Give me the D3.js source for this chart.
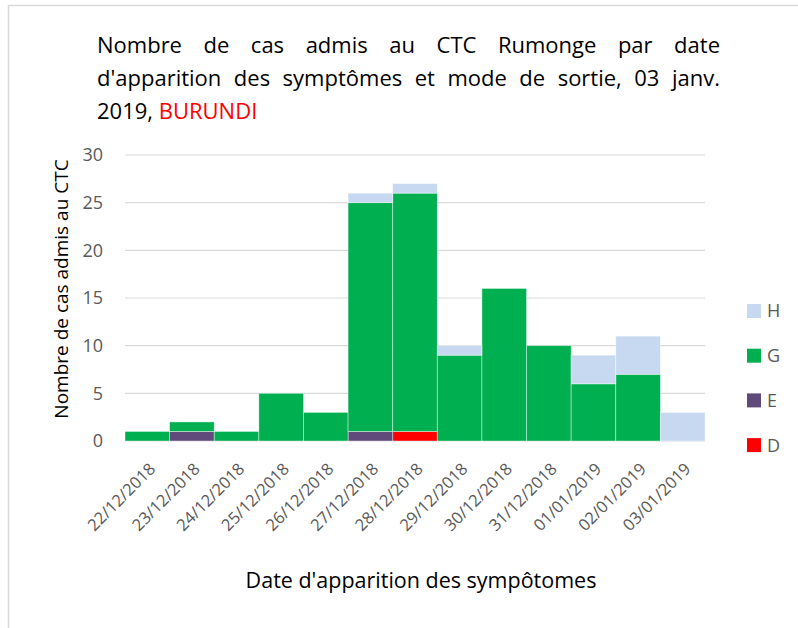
<!DOCTYPE html>
<html>
<head>
<meta charset="utf-8">
<script src="https://cdn.jsdelivr.net/npm/d3@7"></script>
<style>
  body { margin: 0; background: #fff; }
  text { font-family: "Open Sans", "Noto Sans", sans-serif; }
</style>
</head>
<body>
<div id="chart"></div>
<script>
const dates = ['22/12/2018','23/12/2018','24/12/2018','25/12/2018','26/12/2018','27/12/2018',
               '28/12/2018','29/12/2018','30/12/2018','31/12/2018','01/01/2019','02/01/2019','03/01/2019'];
const seriesD = [0, 0, 0, 0, 0, 0, 1, 0, 0, 0, 0, 0, 0];
const seriesE = [0, 1, 0, 0, 0, 1, 0, 0, 0, 0, 0, 0, 0];
const seriesG = [1, 1, 1, 5, 3, 24, 25, 9, 16, 10, 6, 7, 0];
const seriesH = [0, 0, 0, 0, 0, 1, 1, 1, 0, 0, 3, 4, 3];
const yTicks = [0, 5, 10, 15, 20, 25, 30];
const keys = ['D', 'E', 'G', 'H'];
const colors = {D: '#ff0000', E: '#604a7b', G: '#00b050', H: '#c6d9f0'};

const W = 798, H = 628;
const margin = {top: 155, right: 93, bottom: 187, left: 125},
      width = W - margin.left - margin.right,
      height = H - margin.top - margin.bottom;

const svg = d3.select('#chart').append('svg')
    .attr('width', W)
    .attr('height', H);

// outer frame (only top and left edges visible)
svg.append('path')
    .attr('d', 'M8.5,' + H + 'V5.5H' + W)
    .attr('fill', 'none')
    .attr('stroke', '#d9d9d9')
    .attr('stroke-width', 1.5);

// title: first two lines justified by word spacing
const titleX = 97, titleW = 623;
const titleLines = [
  {t: 'Nombre de cas admis au CTC Rumonge par date', y: 53},
  {t: "d'apparition des symptômes et mode de sortie, 03 janv.", y: 86}
];
titleLines.forEach(function(l) {
  const t = svg.append('text')
      .attr('x', titleX).attr('y', l.y)
      .style('font-size', '22px')
      .style('fill', '#000')
      .text(l.t);
  const natural = t.node().getComputedTextLength();
  const gaps = l.t.split(' ').length - 1;
  t.style('word-spacing', ((titleW - natural) / gaps) + 'px');
});
const last = svg.append('text')
    .attr('x', titleX).attr('y', 119)
    .style('font-size', '22px')
    .style('fill', '#000');
last.append('tspan').text('2019, ');
last.append('tspan').style('fill', '#ff0000').text('BURUNDI');

const wrapper = svg.append('g')
    .attr('transform', 'translate(' + margin.left + ',' + margin.top + ')');

const xScale = d3.scaleBand().domain(dates).range([0, width]).padding(0);
const yScale = d3.scaleLinear().domain([0, 30]).range([height, 0]);

// gridlines
wrapper.selectAll('.grid')
    .data(yTicks)
  .enter().append('line')
    .attr('x1', 0).attr('x2', width)
    .attr('y1', function(d) { return yScale(d); })
    .attr('y2', function(d) { return yScale(d); })
    .attr('stroke', '#d9d9d9')
    .attr('stroke-width', 1.2);

// y tick labels
wrapper.selectAll('.ytick')
    .data(yTicks)
  .enter().append('text')
    .attr('x', -22)
    .attr('y', function(d) { return yScale(d); })
    .attr('dy', '0.35em')
    .style('text-anchor', 'end')
    .style('font-size', '18px')
    .style('fill', '#595959')
    .text(function(d) { return d; });

const table = dates.map(function(d, i) {
  return {date: d, D: seriesD[i], E: seriesE[i], G: seriesG[i], H: seriesH[i]};
});
const stacked = d3.stack().keys(keys)(table);

wrapper.selectAll('.layer')
    .data(stacked)
  .enter().append('g')
    .attr('fill', function(d) { return colors[d.key]; })
  .selectAll('rect')
    .data(function(d) { return d.filter(function(p) { return p[1] > p[0]; }); })
  .enter().append('rect')
    .attr('x', function(d) { return xScale(d.data.date); })
    .attr('width', xScale.bandwidth())
    .attr('y', function(d) { return yScale(d[1]); })
    .attr('height', function(d) { return yScale(d[0]) - yScale(d[1]); })
    .attr('stroke', '#ffffff')
    .attr('stroke-opacity', 0.5)
    .attr('stroke-width', 0.8);

// x tick labels, rotated
wrapper.selectAll('.xtick')
    .data(dates)
  .enter().append('text')
    .attr('transform', function(d) {
      return 'translate(' + (xScale(d) + xScale.bandwidth() / 2 + 9) + ',' + (height + 29) + ') rotate(-45)';
    })
    .style('text-anchor', 'end')
    .style('font-size', '16.5px')
    .style('fill', '#595959')
    .text(function(d) { return d; });

// axis titles
svg.append('text')
    .attr('x', 421).attr('y', 588)
    .style('text-anchor', 'middle')
    .style('font-size', '21.5px')
    .style('fill', '#000')
    .text("Date d'apparition des sympôtomes");

svg.append('text')
    .attr('transform', 'translate(68,289) rotate(-90)')
    .style('text-anchor', 'middle')
    .style('font-size', '19px')
    .style('fill', '#000')
    .text('Nombre de cas admis au CTC');

// legend
const legendKeys = ['H', 'G', 'E', 'D'];
const legend = svg.selectAll('.legend')
    .data(legendKeys)
  .enter().append('g')
    .attr('transform', function(d, i) { return 'translate(747,' + (311 + i * 44.7) + ')'; });
legend.append('rect')
    .attr('x', 0).attr('y', -7)
    .attr('width', 14).attr('height', 14)
    .attr('fill', function(d) { return colors[d]; });
legend.append('text')
    .attr('x', 20).attr('y', 0)
    .attr('dy', '0.36em')
    .style('font-size', '18px')
    .style('fill', '#595959')
    .text(function(d) { return d; });
</script>
</body>
</html>
